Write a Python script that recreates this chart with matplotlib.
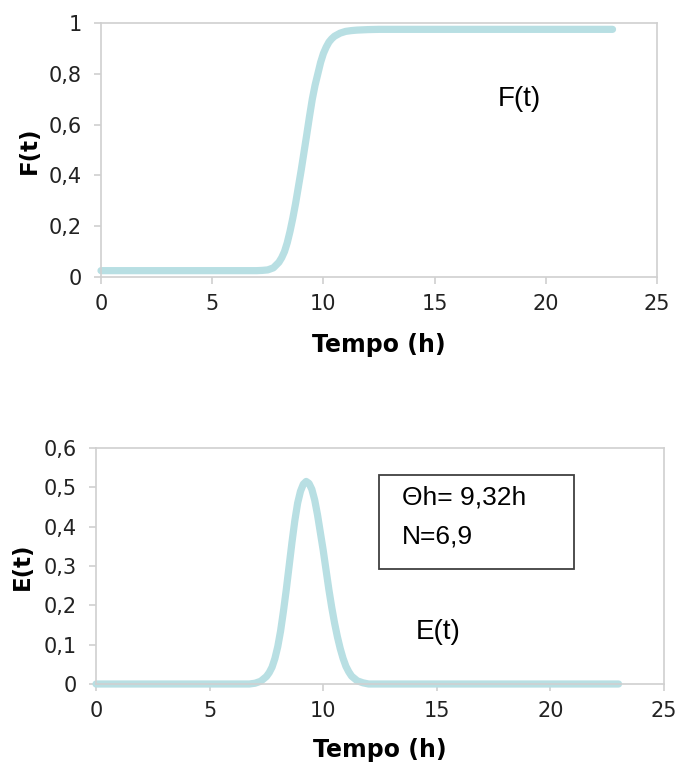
import matplotlib
matplotlib.use("Agg")
import matplotlib.pyplot as plt
from matplotlib.patches import Rectangle

# ---- data ----
F_time = [0, 7.0, 7.25, 7.5, 7.75, 8.0, 8.125, 8.25, 8.375, 8.5, 8.625, 8.75, 8.875,
          9.0, 9.125, 9.25, 9.375, 9.5, 9.625, 9.75, 9.875, 10.0, 10.125, 10.25,
          10.375, 10.5, 10.75, 11.0, 11.25, 11.5, 12.0, 12.5, 23.0]
F_vals = [0.025, 0.025, 0.026, 0.028, 0.036, 0.058, 0.076, 0.10, 0.135, 0.18, 0.232, 0.29, 0.355,
          0.42, 0.49, 0.56, 0.632, 0.70, 0.755, 0.80, 0.845, 0.88, 0.905, 0.925,
          0.938, 0.948, 0.96, 0.967, 0.970, 0.972, 0.974, 0.975, 0.975]

E_time = [0, 6.75, 7.0, 7.25, 7.5, 7.625, 7.75, 7.875, 8.0, 8.125, 8.25, 8.375, 8.5,
          8.625, 8.75, 8.875, 9.0, 9.125, 9.25, 9.375, 9.5, 9.625, 9.75, 9.875, 10.0,
          10.125, 10.25, 10.375, 10.5, 10.625, 10.75, 10.875, 11.0, 11.125, 11.25,
          11.5, 11.75, 12.0, 23.0]
E_vals = [0, 0, 0.002, 0.007, 0.019, 0.029, 0.043, 0.065, 0.095, 0.135, 0.185, 0.24, 0.30,
          0.36, 0.415, 0.46, 0.49, 0.508, 0.515, 0.51, 0.495, 0.468, 0.43, 0.385, 0.34,
          0.29, 0.24, 0.195, 0.155, 0.12, 0.09, 0.065, 0.045, 0.031, 0.02,
          0.008, 0.003, 0.0, 0.0]

x_ticks = [0, 5, 10, 15, 20, 25]
F_yticks = [0, 0.2, 0.4, 0.6, 0.8, 1.0]
F_yticklabels = ["0", "0,2", "0,4", "0,6", "0,8", "1"]
E_yticks = [0, 0.1, 0.2, 0.3, 0.4, 0.5, 0.6]
E_yticklabels = ["0", "0,1", "0,2", "0,3", "0,4", "0,5", "0,6"]

LINE_COLOR = "#b8dfe3"
SPINE_COLOR = "#d0d0d0"
TEXT_COLOR = "#222222"

fig = plt.figure(figsize=(6.78, 7.65), dpi=100)
ax1 = fig.add_axes([101/678, 1-277/765, (657-101)/678, (277-23)/765])
ax2 = fig.add_axes([96/678, 1-684/765, (664-96)/678, (684-448)/765])


def style(ax, yticks, ylabels, ylab, ylab_x, xlab_y):
    ax.set_xlim(0, 25)
    ax.set_xticks(x_ticks)
    ax.set_xticklabels([str(v) for v in x_ticks])
    ax.set_yticks(yticks)
    ax.set_yticklabels(ylabels)
    ax.set_ylim(yticks[0], yticks[-1])
    for s in ax.spines.values():
        s.set_color(SPINE_COLOR)
        s.set_linewidth(1.2)
    ax.tick_params(axis="both", direction="out", length=5, width=1.2,
                   color=SPINE_COLOR, labelsize=15, labelcolor=TEXT_COLOR)
    ax.tick_params(axis="x", pad=7)
    ax.tick_params(axis="y", pad=9)
    ax.set_xlabel("Tempo (h)", fontsize=17, fontweight="bold", color="black", va="center")
    ax.set_ylabel(ylab, fontsize=16.5, fontweight="bold", color="black", va="center")
    ax.xaxis.set_label_coords(0.5, xlab_y)
    ax.yaxis.set_label_coords(ylab_x, 0.5)


ax1.plot(F_time, F_vals, color=LINE_COLOR, lw=5.2, solid_capstyle="round",
         solid_joinstyle="round", clip_on=False)
style(ax1, F_yticks, F_yticklabels, "F(t)", -0.1295, -0.268)
ax1.text(18.8, 0.70, "F(t)", fontsize=20, family="Liberation Sans",
         ha="center", va="center", color="black")

ax2.plot(E_time, E_vals, color=LINE_COLOR, lw=5.2, solid_capstyle="round",
         solid_joinstyle="round", clip_on=False)
style(ax2, E_yticks, E_yticklabels, "E(t)", -0.130, -0.280)
ax2.text(15.05, 0.132, "E(t)", fontsize=20, family="Liberation Sans",
         ha="center", va="center", color="black")
ax2.add_patch(Rectangle((12.46, 0.292), 21.04-12.46, 0.531-0.292,
                        facecolor="white", edgecolor="#404040", lw=1.3, zorder=3))
ax2.text(13.47, 0.475, "Θh= 9,32h", fontsize=19, family="Liberation Sans",
         ha="left", va="center", color="black", zorder=4)
ax2.text(13.47, 0.374, "N=6,9", fontsize=19, family="Liberation Sans",
         ha="left", va="center", color="black", zorder=4)

fig.savefig("out.png", dpi=100)
